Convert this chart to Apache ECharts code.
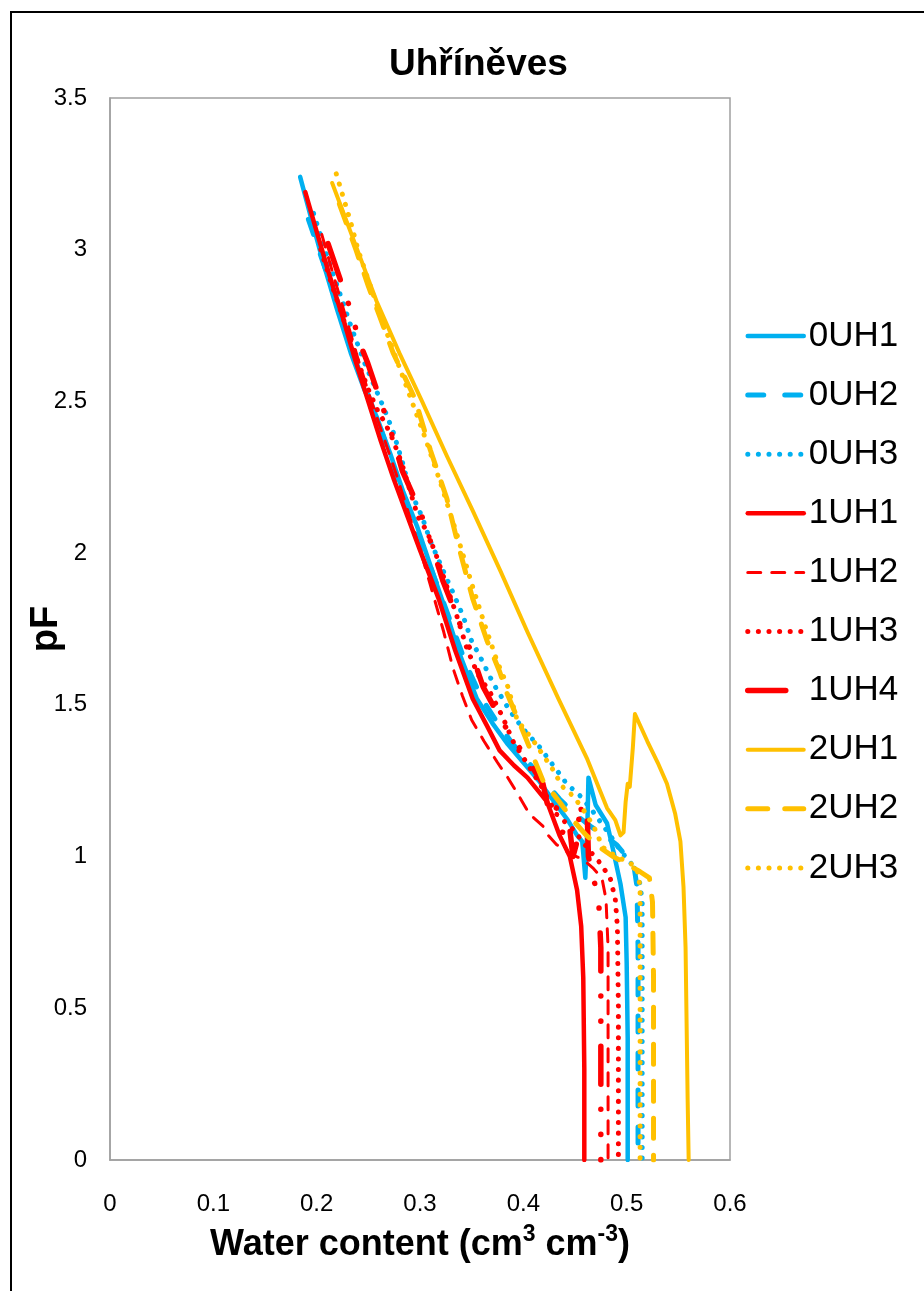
<!DOCTYPE html>
<html>
<head>
<meta charset="utf-8">
<script src="https://cdn.jsdelivr.net/npm/echarts@6/dist/echarts.min.js"></script>
<style>
  html, body { margin: 0; padding: 0; background: #ffffff; }
  #chart { width: 924px; height: 1291px; }
</style>
</head>
<body>
<div id="chart"></div>
<script>
// Water retention curves, Uhříněves: [water content (cm3 cm-3), pF]
const seriesNames = ['0UH1', '0UH2', '0UH3', '1UH1', '1UH2', '1UH3', '1UH4', '2UH1', '2UH2', '2UH3'];

const s0UH1 = [[0.184,3.24],[0.195,3.10],[0.207,2.95],[0.220,2.80],[0.233,2.66],[0.246,2.54],[0.258,2.45],[0.271,2.33],[0.284,2.20],[0.297,2.09],[0.310,1.96],[0.323,1.83],[0.337,1.68],[0.355,1.52],[0.370,1.44],[0.385,1.37],[0.400,1.31],[0.415,1.25],[0.430,1.18],[0.443,1.12],[0.452,1.07],[0.457,1.05],[0.460,0.93],[0.462,1.10],[0.463,1.26],[0.470,1.17],[0.481,1.11],[0.487,1.02],[0.494,0.91],[0.499,0.80],[0.500,0.65],[0.501,0.40],[0.501,0]];
const s0UH2 = [[0.192,3.10],[0.200,3.02],[0.212,2.90],[0.225,2.76],[0.238,2.63],[0.250,2.52],[0.263,2.40],[0.276,2.27],[0.289,2.15],[0.302,2.03],[0.316,1.90],[0.330,1.77],[0.345,1.63],[0.360,1.52],[0.375,1.44],[0.390,1.37],[0.405,1.31],[0.420,1.25],[0.435,1.19],[0.450,1.14],[0.465,1.10],[0.478,1.07],[0.490,1.04],[0.500,1.00],[0.507,0.97],[0.510,0.90],[0.511,0.70],[0.511,0.40],[0.511,0]];
const s0UH3 = [[0.197,3.12],[0.210,2.98],[0.222,2.86],[0.234,2.74],[0.246,2.63],[0.256,2.55],[0.266,2.47],[0.274,2.40],[0.283,2.30],[0.290,2.21],[0.302,2.12],[0.310,2.04],[0.324,1.93],[0.332,1.87],[0.342,1.79],[0.350,1.71],[0.358,1.66],[0.371,1.57],[0.387,1.48],[0.400,1.42],[0.416,1.36],[0.442,1.24],[0.455,1.20],[0.467,1.15],[0.484,1.07],[0.494,1.02],[0.506,0.97],[0.513,0.91],[0.515,0.85],[0.515,0.60],[0.515,0.30],[0.515,0]];
const s1UH1 = [[0.189,3.19],[0.200,3.06],[0.212,2.92],[0.225,2.78],[0.237,2.64],[0.249,2.51],[0.262,2.37],[0.275,2.24],[0.288,2.12],[0.300,2.01],[0.318,1.85],[0.334,1.68],[0.351,1.52],[0.365,1.43],[0.377,1.35],[0.391,1.30],[0.404,1.26],[0.423,1.18],[0.435,1.07],[0.445,1.00],[0.452,0.89],[0.456,0.77],[0.458,0.60],[0.459,0.30],[0.459,0]];
const s1UH2 = [[0.205,3.05],[0.215,2.93],[0.228,2.78],[0.240,2.64],[0.252,2.51],[0.265,2.38],[0.278,2.25],[0.290,2.12],[0.302,1.99],[0.313,1.86],[0.323,1.74],[0.332,1.62],[0.341,1.53],[0.350,1.45],[0.362,1.38],[0.375,1.31],[0.385,1.26],[0.394,1.21],[0.406,1.14],[0.419,1.10],[0.424,1.07],[0.432,1.04],[0.445,1.01],[0.458,0.99],[0.468,0.96],[0.476,0.93],[0.480,0.86],[0.482,0.70],[0.482,0.40],[0.482,0]];
const s1UH3 = [[0.204,3.00],[0.215,2.88],[0.228,2.75],[0.240,2.63],[0.250,2.54],[0.259,2.47],[0.266,2.43],[0.273,2.38],[0.282,2.30],[0.290,2.21],[0.298,2.12],[0.307,2.07],[0.316,1.99],[0.326,1.89],[0.335,1.80],[0.345,1.69],[0.356,1.60],[0.368,1.54],[0.380,1.46],[0.390,1.38],[0.403,1.31],[0.416,1.24],[0.432,1.14],[0.448,1.09],[0.464,1.02],[0.474,0.98],[0.484,0.93],[0.489,0.86],[0.491,0.77],[0.492,0.50],[0.492,0.20],[0.492,0]];
const s1UH4 = [[0.211,3.02],[0.218,2.95],[0.224,2.89],[0.232,2.81],[0.242,2.69],[0.249,2.63],[0.260,2.52],[0.272,2.40],[0.283,2.27],[0.300,2.14],[0.310,2.04],[0.322,1.91],[0.337,1.78],[0.350,1.67],[0.361,1.56],[0.372,1.49],[0.384,1.42],[0.400,1.34],[0.419,1.24],[0.426,1.13],[0.432,1.16],[0.438,1.08],[0.444,1.12],[0.448,1.00],[0.452,1.05],[0.455,1.18],[0.458,1.10],[0.462,1.12],[0.463,1.00],[0.466,0.95],[0.470,0.90],[0.473,0.85],[0.475,0.70],[0.475,0.40],[0.475,0]];
const s2UH1 = [[0.215,3.22],[0.236,3.03],[0.258,2.83],[0.280,2.66],[0.302,2.50],[0.326,2.32],[0.351,2.14],[0.378,1.94],[0.404,1.74],[0.434,1.52],[0.462,1.32],[0.481,1.16],[0.489,1.12],[0.494,1.07],[0.497,1.08],[0.499,1.18],[0.501,1.24],[0.503,1.23],[0.506,1.36],[0.508,1.47],[0.520,1.38],[0.530,1.31],[0.539,1.24],[0.547,1.14],[0.552,1.05],[0.555,0.90],[0.557,0.70],[0.558,0.45],[0.559,0.20],[0.560,0]];
const s2UH2 = [[0.222,3.15],[0.238,3.00],[0.250,2.88],[0.261,2.78],[0.274,2.66],[0.295,2.51],[0.310,2.34],[0.326,2.18],[0.336,2.04],[0.351,1.85],[0.365,1.71],[0.377,1.61],[0.384,1.54],[0.400,1.41],[0.419,1.25],[0.435,1.18],[0.448,1.12],[0.461,1.07],[0.474,1.03],[0.487,1.00],[0.503,0.97],[0.513,0.95],[0.522,0.93],[0.525,0.85],[0.526,0.60],[0.526,0.30],[0.526,0]];
const s2UH3 = [[0.219,3.25],[0.226,3.17],[0.233,3.09],[0.240,3.00],[0.250,2.90],[0.262,2.78],[0.275,2.66],[0.290,2.52],[0.305,2.38],[0.320,2.23],[0.335,2.07],[0.350,1.90],[0.363,1.76],[0.375,1.64],[0.385,1.56],[0.394,1.45],[0.408,1.39],[0.428,1.29],[0.438,1.23],[0.448,1.20],[0.457,1.16],[0.468,1.10],[0.477,1.03],[0.490,1.00],[0.503,0.98],[0.510,0.96],[0.513,0.90],[0.513,0.60],[0.513,0.30],[0.513,0]];

const seriesData = [s0UH1, s0UH2, s0UH3, s1UH1, s1UH2, s1UH3, s1UH4, s2UH1, s2UH2, s2UH3];

const BLUE = '#00B0F0', RED = '#FF0000', ORANGE = '#FFC000';
const FONT = "'Liberation Sans', Arial, sans-serif";

// line appearance per series: colour, width, dash pattern (round caps)
const styles = [
  { color: BLUE,   width: 4.5, type: 'solid' },
  { color: BLUE,   width: 5,   type: [16, 21] },
  { color: BLUE,   width: 5,   type: [0.1, 10.5] },
  { color: RED,    width: 4.5, type: 'solid' },
  { color: RED,    width: 3,   type: [13, 11] },
  { color: RED,    width: 5,   type: [0.1, 10.5] },
  { color: RED,    width: 5.5, type: [38, 25, 0.1, 25, 0.1, 25] },
  { color: ORANGE, width: 4,   type: 'solid' },
  { color: ORANGE, width: 5,   type: [20, 17] },
  { color: ORANGE, width: 5,   type: [0.1, 10.5] }
];

const chart = echarts.init(document.getElementById('chart'), null, { renderer: 'canvas' });

chart.setOption({
  animation: false,
  backgroundColor: '#ffffff',
  textStyle: { fontFamily: FONT },
  title: {
    text: 'Uhříněves',
    left: 384,
    top: 41,
    textStyle: { fontFamily: FONT, fontSize: 37, fontWeight: 'bold', color: '#000' }
  },
  graphic: [{
    type: 'rect',
    shape: { x: 11, y: 12, width: 1000, height: 1400 },
    style: { fill: 'none', stroke: '#000', lineWidth: 2 },
    silent: true
  }],
  grid: {
    left: 110, top: 98, width: 620, height: 1062,
    containLabel: false,
    outerBoundsMode: 'none',
    show: true, borderColor: '#a0a0a0', borderWidth: 1.5, backgroundColor: '#fff'
  },
  legend: {
    orient: 'vertical',
    left: 740,
    top: 309,
    itemWidth: 56,
    itemHeight: 14,
    itemGap: 15.1,
    data: seriesNames,
    itemStyle: { opacity: 0 },
    lineStyle: { width: 'inherit', type: 'inherit', cap: 'round' },
    textStyle: { fontFamily: FONT, fontSize: 35, color: '#000', lineHeight: 44 }
  },
  xAxis: {
    type: 'value',
    min: 0, max: 0.6, interval: 0.1,
    name: '{b|Water content (cm}{s|3}{b| cm}{s|-3}{b|)}',
    nameLocation: 'middle',
    nameGap: 63,
    nameMoveOverlap: false,
    nameTextStyle: {
      rich: {
        b: { fontFamily: FONT, fontSize: 36, fontWeight: 'bold', color: '#000', lineHeight: 44 },
        s: { fontFamily: FONT, fontSize: 23, fontWeight: 'bold', color: '#000', verticalAlign: 'top', lineHeight: 44, padding: [0, 0, 18, 0] }
      }
    },
    axisLine: { show: true, lineStyle: { color: '#a0a0a0', width: 1.5 } },
    axisTick: { show: false },
    splitLine: { show: false },
    axisLabel: { fontFamily: FONT, fontSize: 24, color: '#000', margin: 32 }
  },
  yAxis: {
    type: 'value',
    min: 0, max: 3.5, interval: 0.5,
    name: 'pF',
    nameLocation: 'middle',
    nameGap: 44,
    nameMoveOverlap: false,
    nameTextStyle: { fontFamily: FONT, fontSize: 38, fontWeight: 'bold', color: '#000' },
    axisLine: { show: true, lineStyle: { color: '#a0a0a0', width: 1.5 } },
    axisTick: { show: false },
    splitLine: { show: false },
    axisLabel: { fontFamily: FONT, fontSize: 24, color: '#000', margin: 23 }
  },
  series: seriesNames.map((name, i) => ({
    name: name,
    type: 'line',
    data: seriesData[i],
    showSymbol: false,
    symbol: 'none',
    clip: true,
    color: styles[i].color,
    lineStyle: {
      color: styles[i].color,
      width: styles[i].width,
      type: styles[i].type,
      cap: 'round',
      join: 'round'
    }
  }))
});
</script>
</body>
</html>
